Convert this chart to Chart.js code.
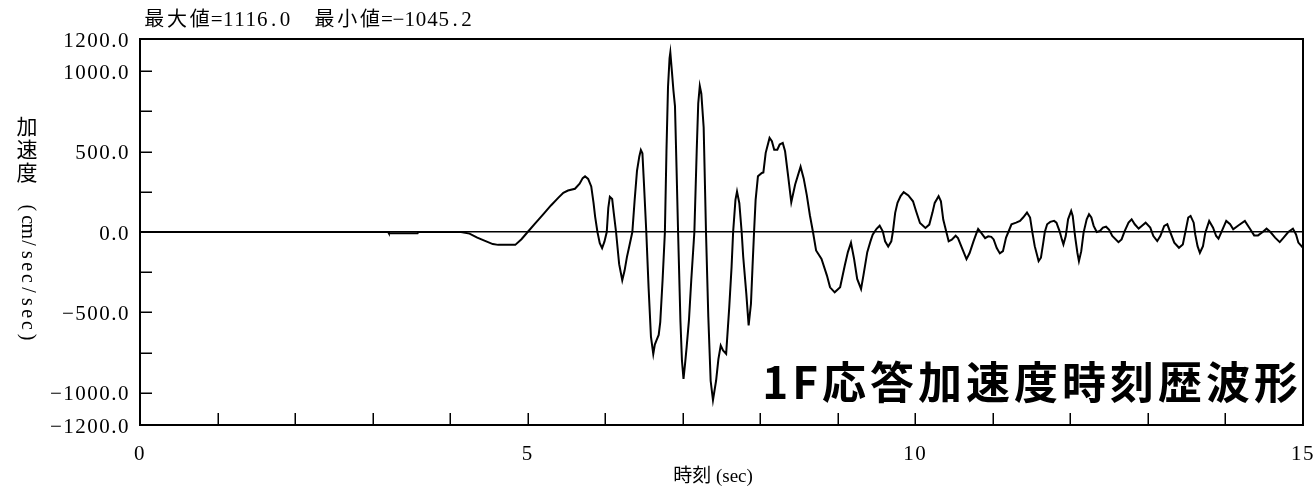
<!DOCTYPE html>
<html lang="ja">
<head>
<meta charset="utf-8">
<title>1F応答加速度時刻歴波形</title>
<script src="https://cdn.jsdelivr.net/npm/chart.js@4.4.1/dist/chart.umd.min.js"></script>
<style>
  html, body { margin: 0; padding: 0; background: #fff; }
  #wrap { width: 1315px; height: 490px; position: relative; }
</style>
</head>
<body>
<div id="wrap"><canvas id="c" width="1315" height="490"></canvas></div>
<script>
// Response acceleration history of the 1st floor (time in sec, acceleration in cm/sec/sec)
const timeSec = [
  0.00, 3.20, 3.21, 3.58, 3.59, 4.14, 4.25, 4.35, 4.45, 4.55, 4.62, 4.84, 4.92, 5.00,
  5.10, 5.20, 5.30, 5.40, 5.46, 5.52, 5.61, 5.67, 5.71, 5.74, 5.78, 5.82, 5.85, 5.87,
  5.90, 5.93, 5.96, 5.99, 6.02, 6.04, 6.06, 6.09, 6.11, 6.14, 6.18, 6.22, 6.25, 6.28,
  6.31, 6.35, 6.38, 6.41, 6.44, 6.46, 6.48, 6.50, 6.53, 6.56, 6.59, 6.62, 6.64, 6.66,
  6.69, 6.71, 6.74, 6.77, 6.79, 6.81, 6.83, 6.84, 6.86, 6.88, 6.90, 6.92, 6.94, 6.97,
  6.99, 7.01, 7.03, 7.05, 7.08, 7.11, 7.15, 7.18, 7.20, 7.22, 7.24, 7.27, 7.30, 7.33,
  7.36, 7.39, 7.43, 7.46, 7.49, 7.52, 7.56, 7.60, 7.63, 7.65, 7.68, 7.70, 7.73, 7.76,
  7.78, 7.82, 7.85, 7.88, 7.90, 7.92, 7.94, 7.97, 8.02, 8.04, 8.07, 8.12, 8.15, 8.18,
  8.22, 8.25, 8.29, 8.32, 8.36, 8.40, 8.45, 8.52, 8.56, 8.60, 8.64, 8.68, 8.72, 8.79,
  8.86, 8.90, 8.96, 9.03, 9.09, 9.13, 9.17, 9.21, 9.25, 9.30, 9.33, 9.38, 9.42, 9.45,
  9.50, 9.54, 9.58, 9.61, 9.65, 9.69, 9.71, 9.74, 9.77, 9.81, 9.85, 9.91, 9.97, 10.01,
  10.06, 10.13, 10.18, 10.22, 10.25, 10.30, 10.33, 10.36, 10.40, 10.43, 10.47, 10.52, 10.55, 10.61,
  10.66, 10.70, 10.75, 10.79, 10.81, 10.85, 10.90, 10.94, 10.98, 11.01, 11.05, 11.09, 11.13, 11.17,
  11.20, 11.24, 11.30, 11.35, 11.39, 11.44, 11.48, 11.51, 11.54, 11.59, 11.62, 11.65, 11.67, 11.70,
  11.74, 11.79, 11.82, 11.86, 11.89, 11.91, 11.94, 11.97, 12.01, 12.03, 12.06, 12.09, 12.11, 12.14,
  12.17, 12.21, 12.24, 12.27, 12.30, 12.34, 12.38, 12.42, 12.46, 12.50, 12.54, 12.62, 12.66, 12.70,
  12.75, 12.79, 12.83, 12.88, 12.92, 12.97, 13.03, 13.07, 13.12, 13.16, 13.21, 13.25, 13.29, 13.34,
  13.40, 13.45, 13.49, 13.52, 13.55, 13.59, 13.61, 13.64, 13.67, 13.71, 13.74, 13.79, 13.84, 13.88,
  13.91, 13.95, 14.01, 14.06, 14.10, 14.17, 14.25, 14.32, 14.37, 14.42, 14.48, 14.53, 14.58, 14.64,
  14.70, 14.75, 14.81, 14.87, 14.91, 14.94, 15.00
];
const accel = [
  0, 0, -8, -8, 0, 0, -10, -35, -55, -75, -80, -80, -45, 0,
  55, 110, 165, 215, 244, 258, 269, 300, 335, 346, 330, 283, 180, 96,
  0, -70, -100, -60, 0, 150, 219, 205, 120, 0, -200, -300, -240, -156,
  -90, 0, 200, 380, 470, 510, 490, 300, 0, -350, -650, -758, -700, -675,
  -640, -560, -300, 0, 500, 900, 1080, 1116.0, 1000, 880, 783, 400, 0, -550,
  -800, -914, -820, -717, -550, -300, 0, 500, 800, 908, 860, 650, 0, -529,
  -925, -1045.2, -925, -790, -706, -737, -758, -467, -217, 0, 200, 252, 179, 0,
  -154, -383, -581, -446, -217, 0, 200, 346, 367, 370, 492, 585, 565, 512,
  512, 544, 554, 502, 346, 185, 295, 406, 333, 229, 104, 0, -115, -167,
  -271, -344, -375, -344, -208, -125, -67, -167, -292, -354, -271, -125, -60, -17,
  20, 39, 4, -58, -90, -58, 0, 119, 181, 223, 248, 227, 191, 129,
  56, 25, 46, 119, 181, 223, 191, 77, 0, -58, -48, -23, -38, -110,
  -169, -131, -58, -6, 19, -6, -38, -27, -30, -46, -100, -133, -119, -35,
  0, 48, 58, 69, 90, 121, 90, -4, -88, -181, -160, -66, 0, 48,
  63, 69, 58, 6, -46, -77, -25, 79, 131, 100, -25, -129, -181, -119,
  -4, 79, 110, 90, 38, 0, 6, 27, 33, 13, -25, -63, -46, 6,
  58, 79, 48, 21, 38, 58, 27, -25, -56, -25, 38, 48, -4, -66,
  -98, -77, 17, 90, 100, 58, -15, -88, -129, -88, -4, 69, 27, -25,
  -42, 2, 69, 48, 17, 42, 69, 17, -21, -21, 0, 21, 0, -35,
  -63, -35, 0, 21, -15, -66, -98
];

// Axes
const xMin = 0, xMax = 15;
const xTickValues = [0, 1, 2, 3, 4, 5, 6, 7, 8, 9, 10, 11, 12, 13, 14, 15];
const xLabeledTicks = [0, 5, 10, 15];
const yMin = -1200, yMax = 1200;
const yTickValues = [-1200, -1000, -750, -500, -250, 0, 250, 500, 750, 1000, 1200];
const yLabeledTicks = [-1200, -1000, -500, 0, 500, 1000, 1200];

// Texts
const chartTitle = '1F応答加速度時刻歴波形';
const xTitle = '時刻 (sec)';
const yTitleWord = '加速度';
const yTitleUnit = '(cm/sec/sec)';

const fmt = v => v.toFixed(1).replace('-', '−');
const statText = '最大値=' + fmt(Math.max(...accel)) + '　最小値=' + fmt(Math.min(...accel));

const SERIF = "'Liberation Serif', 'Noto Sans CJK JP', serif";
const CJK = "'Noto Sans CJK JP', sans-serif";

// draws text in fixed cells: full width for CJK, half width otherwise
function drawCells(ctx, text, x, y, cell, latinFont, cjkFont) {
  ctx.textAlign = 'center';
  for (const ch of text) {
    const wide = ch.codePointAt(0) > 0x2e7f;
    const w = wide ? cell : cell / 2;
    ctx.font = wide ? cjkFont : latinFont;
    ctx.fillText(ch, x + w / 2, y);
    x += w;
  }
  return x;
}

// no extra room for edge labels: the plot box is fixed
const noEdgePadding = s => {
  s.paddingLeft = 0; s.paddingRight = 0; s.paddingTop = 0; s.paddingBottom = 0;
};

const decorations = {
  id: 'decorations',
  beforeDraw(chart) {
    chart.ctx.letterSpacing = '1.5px';
  },
  afterDraw(chart) {
    const { ctx, chartArea: a, scales: { x, y } } = chart;
    ctx.save();
    ctx.letterSpacing = '0px';
    ctx.fillStyle = '#000';
    ctx.strokeStyle = '#000';

    // top and right frame
    ctx.lineWidth = 2;
    ctx.beginPath();
    ctx.moveTo(a.left, a.top);
    ctx.lineTo(a.right, a.top);
    ctx.lineTo(a.right, a.bottom);
    ctx.stroke();

    // inward tick marks
    ctx.lineWidth = 1.5;
    ctx.beginPath();
    y.ticks.forEach(t => {
      if (t.value <= y.min || t.value >= y.max) return;
      const py = Math.round(y.getPixelForValue(t.value)) + 0.25;
      ctx.moveTo(a.left, py);
      ctx.lineTo(a.left + 12, py);
    });
    x.ticks.forEach(t => {
      if (t.value <= x.min || t.value >= x.max) return;
      const px = Math.round(x.getPixelForValue(t.value)) + 0.25;
      ctx.moveTo(px, a.bottom);
      ctx.lineTo(px, a.bottom - 12);
    });
    ctx.stroke();

    // statistics line above the plot
    ctx.textBaseline = 'alphabetic';
    drawCells(ctx, statText, 143, 26, 22.7, '21px ' + SERIF, '20px ' + CJK);

    // vertical y-axis title
    ctx.textBaseline = 'middle';
    ctx.textAlign = 'center';
    ctx.font = '21px ' + CJK;
    [...yTitleWord].forEach((ch, i) => ctx.fillText(ch, 27, 126 + i * 23));
    ctx.save();
    ctx.translate(27, 202);
    ctx.rotate(Math.PI / 2);
    drawCells(ctx, yTitleUnit, 0, 0, 23.5, '20px ' + SERIF, '20px ' + CJK);
    ctx.restore();

    // x-axis title
    ctx.textBaseline = 'alphabetic';
    ctx.textAlign = 'center';
    ctx.font = '19px ' + SERIF;
    ctx.fillText(xTitle, 713, 482);

    // chart caption
    ctx.textAlign = 'right';
    ctx.font = 'bold 44px ' + CJK;
    ctx.letterSpacing = '4px';
    ctx.fillText(chartTitle, 1302, 399);
    ctx.restore();
  }
};

new Chart(document.getElementById('c'), {
  type: 'line',
  data: {
    datasets: [{
      data: timeSec.map((t, i) => ({ x: t, y: accel[i] })),
      borderColor: '#000',
      borderWidth: 2,
      pointRadius: 0,
      tension: 0,
      fill: false
    }]
  },
  options: {
    responsive: false,
    animation: false,
    events: [],
    layout: { padding: { top: 39, right: 12, left: 0, bottom: 0 } },
    plugins: { legend: { display: false }, tooltip: { enabled: false }, title: { display: false } },
    scales: {
      x: {
        type: 'linear',
        min: xMin,
        max: xMax,
        afterBuildTicks: s => { s.ticks = xTickValues.map(v => ({ value: v })); },
        afterFit: s => { s.height = 65; noEdgePadding(s); },
        ticks: {
          autoSkip: false,
          maxRotation: 0,
          padding: 17,
          color: '#000',
          font: { family: SERIF, size: 21 },
          callback: v => xLabeledTicks.includes(v) ? String(v) : ''
        },
        grid: { display: false, drawTicks: false },
        border: { display: true, color: '#000', width: 2 }
      },
      y: {
        type: 'linear',
        min: yMin,
        max: yMax,
        afterBuildTicks: s => { s.ticks = yTickValues.map(v => ({ value: v })); },
        afterFit: s => { s.width = 140; noEdgePadding(s); },
        ticks: {
          autoSkip: false,
          padding: 10,
          labelOffset: 2,
          color: '#000',
          font: { family: SERIF, size: 21 },
          callback: v => yLabeledTicks.includes(v) ? fmt(v) : ''
        },
        grid: {
          drawTicks: false,
          color: c => (c.tick && c.tick.value === 0) ? '#000' : 'rgba(0,0,0,0)',
          lineWidth: 1.5
        },
        border: { display: true, color: '#000', width: 2 }
      }
    }
  },
  plugins: [decorations]
});
</script>
</body>
</html>
